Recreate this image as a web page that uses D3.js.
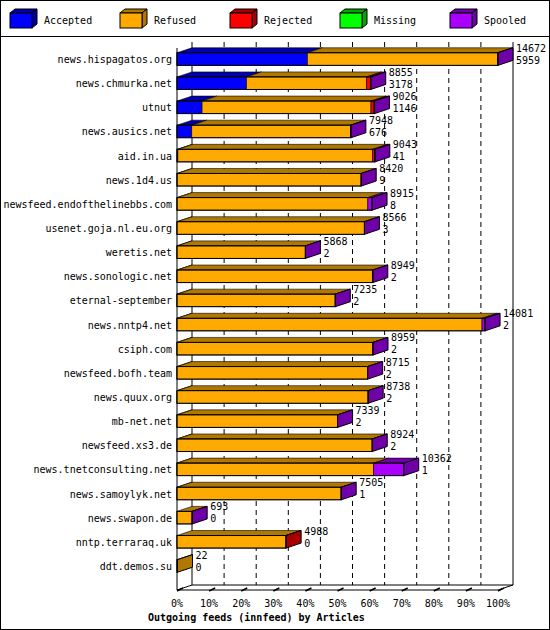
<!DOCTYPE html>
<html><head><meta charset="utf-8">
<script src="https://cdn.jsdelivr.net/npm/d3@7"></script>
<style>body{margin:0;background:#fff}text{font-family:"DejaVu Sans Mono",monospace}</style>
</head><body><svg id="canvas"></svg>
<script>
const width = 550, height = 630;

// data
const hosts = ["news.hispagatos.org","news.chmurka.net","utnut","news.ausics.net","aid.in.ua","news.1d4.us",
  "newsfeed.endofthelinebbs.com","usenet.goja.nl.eu.org","weretis.net","news.sonologic.net","eternal-september",
  "news.nntp4.net","csiph.com","newsfeed.bofh.team","news.quux.org","mb-net.net","newsfeed.xs3.de",
  "news.tnetconsulting.net","news.samoylyk.net","news.swapon.de","nntp.terraraq.uk","ddt.demos.su"];
const offered  = [14672,8855,9026,7948,9043,8420,8915,8566,5868,8949,7235,14081,8959,8715,8738,7339,8924,10362,7505,693,4988,22];
const accepted = [5959,3178,1146,676,41,9,8,3,2,2,2,2,2,2,2,2,2,1,1,0,0,0];
const rejected = [0,180,137,0,102,0,0,0,0,0,0,0,0,0,0,0,0,0,0,0,10,0];
const missing  = [0,0,0,0,0,0,0,0,0,0,0,0,0,0,0,0,0,0,0,0,0,0];
const spooled  = [23,17,23,22,5,5,192,5,5,5,5,140,5,5,5,5,5,1370,5,5,0,0];
const refused = offered.map((o,i) => o - accepted[i] - rejected[i] - missing[i] - spooled[i]);
const ticks = [0,10,20,30,40,50,60,70,80,90,100];

const legend = [
  {name:"Accepted", front:"#0000ff", dark:"#0000a8"},
  {name:"Refused",  front:"#ffaa00", dark:"#b07800"},
  {name:"Rejected", front:"#ff0000", dark:"#a80000"},
  {name:"Missing",  front:"#00ff00", dark:"#00a800"},
  {name:"Spooled",  front:"#aa00ff", dark:"#7000a8"}
];
const series = [accepted, refused, rejected, missing, spooled];

const dx = 15, dy = 5, fs = 10;
let canvas = d3.select("#canvas").attr('width', width).attr('height', height);
canvas.append('rect').attr('x',0.5).attr('y',0.5).attr('width',width-1).attr('height',height-1)
  .attr('fill','#fff').attr('stroke','#000');
canvas.append('line').attr('x1',0).attr('x2',width).attr('y1',36.5).attr('y2',36.5).attr('stroke','#000');

//legend
legend.forEach((l,i) => {
  const x = 10 + i*110, y = 9;
  const g = canvas.append('g');
  g.append('polygon').attr('points',`${x},${y+4} ${x+5},${y} ${x+27},${y} ${x+22},${y+4}`).attr('fill',l.dark).attr('stroke','#000');
  g.append('polygon').attr('points',`${x+22},${y+4} ${x+27},${y} ${x+27},${y+15} ${x+22},${y+19}`).attr('fill',l.dark).attr('stroke','#000');
  g.append('rect').attr('x',x).attr('y',y+4).attr('width',22).attr('height',15).attr('fill',l.front).attr('stroke','#000');
  g.append('text').attr('x',x+34).attr('y',24).attr('font-size',fs).text(l.name);
});

const x = d3.scaleLinear().domain([0, d3.max(offered)]).range([177, 498]);
const xp = d3.scaleLinear().domain([0, 100]).range([177, 498]);
const y = d3.scaleBand().domain(hosts).range([47, 578]).paddingInner(0.48).paddingOuter(0.24);
const floorY = 590;

//back wall and grid
canvas.append('line').attr('x1',177+dx).attr('x2',177+dx).attr('y1',42).attr('y2',floorY-dy).attr('stroke','#000');
canvas.append('line').attr('x1',498+dx).attr('x2',498+dx).attr('y1',42).attr('y2',floorY-dy).attr('stroke','#000');
canvas.append('line').attr('x1',177+dx).attr('x2',498+dx).attr('y1',floorY-dy).attr('y2',floorY-dy).attr('stroke','#000');
ticks.slice(1,-1).forEach(t => {
  canvas.append('line').attr('x1',xp(t)+dx).attr('x2',xp(t)+dx).attr('y1',42).attr('y2',floorY-dy)
    .attr('stroke','#000').attr('stroke-dasharray','5,4');
});
canvas.append('line').attr('x1',177).attr('x2',177).attr('y1',48).attr('y2',floorY).attr('stroke','#000');
canvas.append('line').attr('x1',177).attr('x2',498).attr('y1',floorY).attr('y2',floorY).attr('stroke','#000');
canvas.append('line').attr('x1',498).attr('x2',498+dx).attr('y1',floorY).attr('y2',floorY-dy).attr('stroke','#000');
canvas.append('line').attr('x1',177).attr('x2',177+dx).attr('y1',floorY).attr('y2',floorY-dy).attr('stroke','#000');
ticks.forEach(t => {
  canvas.append('line').attr('x1',xp(t)).attr('x2',xp(t)+6).attr('y1',floorY+1).attr('y2',floorY-2).attr('stroke','#000').attr('stroke-width',1.5);
  canvas.append('text').attr('x',xp(t)).attr('y',607).attr('text-anchor','middle').attr('font-size',fs).text(t+'%');
});
canvas.append('text').attr('x',148).attr('y',621).attr('font-size',fs).attr('font-weight','bold')
  .text('Outgoing feeds (innfeed) by Articles');

//bars
hosts.forEach((h,i) => {
  const top = y(h), bh = y.bandwidth();
  let acc = 0, last = 1;
  const g = canvas.append('g');
  series.forEach((s,k) => {
    const v = s[i];
    if (v <= 0) return;
    const x0 = x(acc), x1 = x(acc + v);
    acc += v; last = k;
    g.append('polygon').attr('points',`${x0},${top} ${x0+dx},${top-dy} ${x1+dx},${top-dy} ${x1},${top}`)
      .attr('fill',legend[k].dark).attr('stroke','#000').attr('stroke-width',0.6);
    g.append('rect').attr('x',x0).attr('y',top).attr('width',x1-x0).attr('height',bh)
      .attr('fill',legend[k].front).attr('stroke','#000').attr('stroke-width',0.6);
  });
  const xe = x(acc);
  g.append('polygon').attr('points',`${xe},${top} ${xe+dx},${top-dy} ${xe+dx},${top+bh-dy} ${xe},${top+bh}`)
    .attr('fill',legend[last].dark).attr('stroke','#000');
  g.append('rect').attr('x',x(0)).attr('y',top).attr('width',xe-x(0)).attr('height',bh)
    .attr('fill','none').attr('stroke','#000');
  canvas.append('text').attr('x',172).attr('y',top+bh/2+4).attr('text-anchor','end').attr('font-size',fs).text(h);
  canvas.append('text').attr('x',xe+dx+3).attr('y',top-1).attr('font-size',fs).text(offered[i]);
  canvas.append('text').attr('x',xe+dx+3).attr('y',top+11).attr('font-size',fs).text(accepted[i]);
});
</script></body></html>
